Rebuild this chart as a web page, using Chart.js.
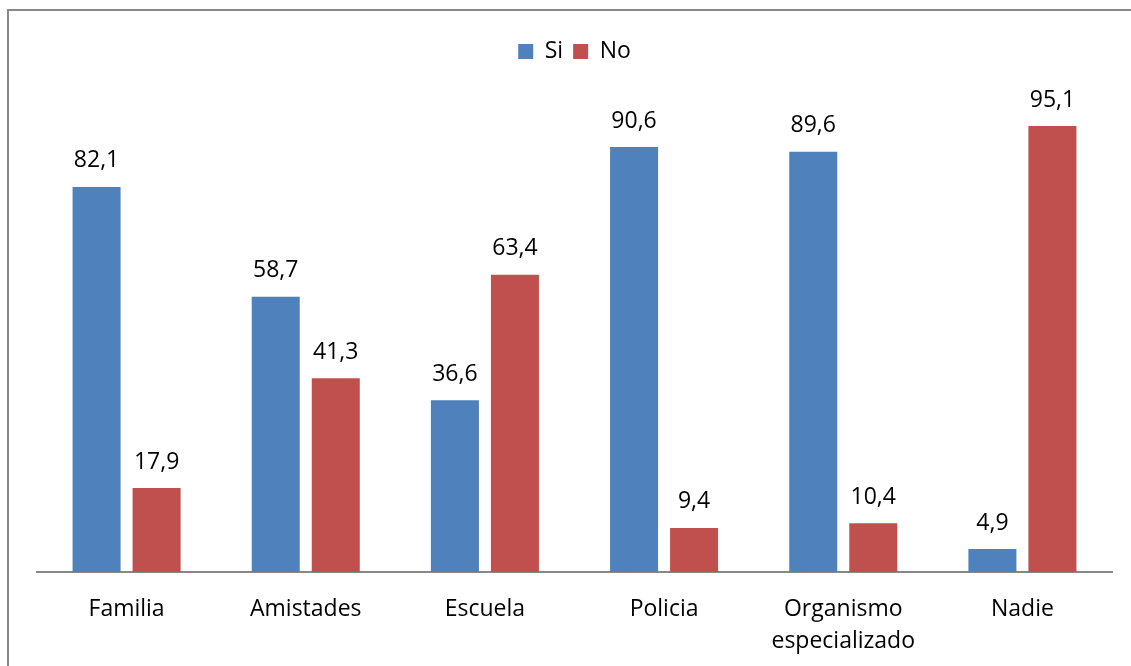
<!DOCTYPE html>
<html>
<head>
<meta charset="utf-8">
<script src="https://cdn.jsdelivr.net/npm/chart.js@4/dist/chart.umd.min.js"></script>
<style>
  body { margin: 0; background: #fff; overflow: hidden; }
  #wrap { position: relative; width: 1131px; height: 666px; }
  #frame {
    position: absolute; left: 7px; top: 9px; width: 1300px; height: 900px;
    border: 2px solid #888; pointer-events: none;
  }
</style>
</head>
<body>
<div id="wrap">
  <canvas id="chart" width="1131" height="666"></canvas>
  <div id="frame"></div>
</div>
<script>
// Chart data
const categories = ["Familia", "Amistades", "Escuela", "Policia", ["Organismo", "especializado"], "Nadie"];
const siValues = [82.1, 58.7, 36.6, 90.6, 89.6, 4.9];
const noValues = [17.9, 41.3, 63.4, 9.4, 10.4, 95.1];
const yTicks = [0, 100];

const FONT = "'Open Sans', 'Noto Sans', sans-serif";

// Values drawn above each bar, with decimal comma
const barLabels = {
  id: "barLabels",
  afterDatasetsDraw(chart) {
    const ctx = chart.ctx;
    ctx.save();
    ctx.font = "23px " + FONT;
    ctx.fillStyle = "#000";
    ctx.textAlign = "center";
    ctx.textBaseline = "middle";
    chart.data.datasets.forEach((ds, i) => {
      chart.getDatasetMeta(i).data.forEach((bar, j) => {
        const txt = ds.data[j].toFixed(1).replace(".", ",");
        ctx.fillText(txt, bar.x, bar.y - 26);
      });
    });
    ctx.restore();
  },
};

new Chart(document.getElementById("chart"), {
  type: "bar",
  data: {
    labels: categories,
    datasets: [
      { label: "Si", data: siValues, backgroundColor: "#4F81BD" },
      { label: "No", data: noValues, backgroundColor: "#C0504D" },
    ],
  },
  options: {
    responsive: false,
    animation: false,
    devicePixelRatio: 1,
    categoryPercentage: 0.67,
    barPercentage: 0.8,
    layout: { padding: { top: 30, left: 37, right: 19, bottom: 0 } },
    plugins: {
      tooltip: { enabled: false },
      legend: {
        position: "top",
        labels: {
          boxWidth: 15,
          boxHeight: 15,
          padding: 10,
          color: "#000",
          font: { family: FONT, size: 23 },
        },
      },
    },
    scales: {
      x: {
        grid: { display: false },
        border: { display: true, color: "#888", width: 2 },
        ticks: {
          color: "#000",
          padding: 13,
          maxRotation: 0,
          font: { family: FONT, size: 23, lineHeight: 1.4 },
        },
        afterFit: (scale) => { scale.height = 94; },
      },
      // spacer between legend and plot area
      top: {
        type: "category",
        position: "top",
        grid: { display: false },
        border: { display: false },
        ticks: { display: false },
        afterFit: (scale) => { scale.height = 30; },
      },
      y: {
        display: false,
        min: yTicks[0],
        max: yTicks[yTicks.length - 1],
      },
    },
  },
  plugins: [barLabels],
});
</script>
</body>
</html>
